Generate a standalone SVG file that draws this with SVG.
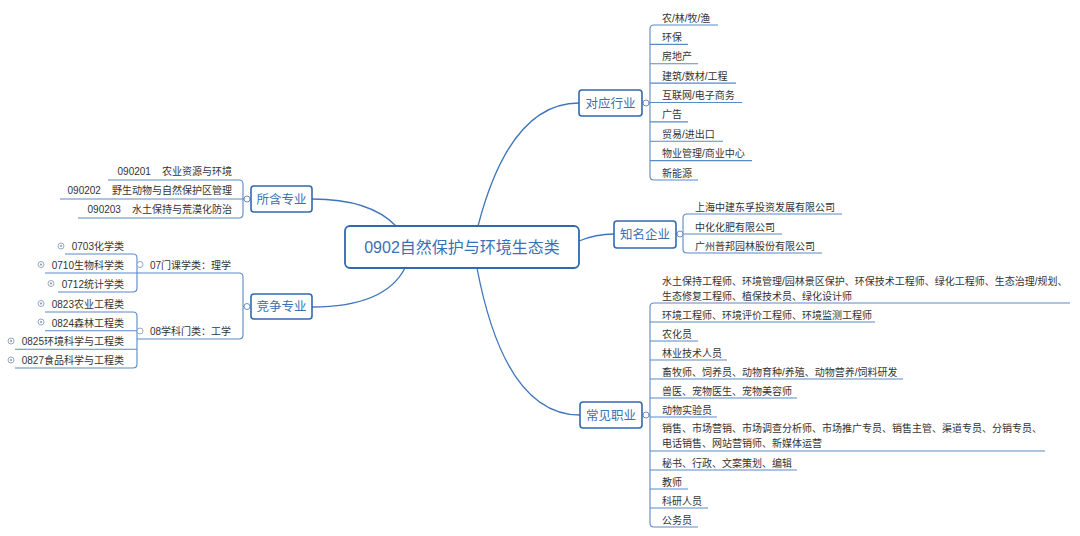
<svg xmlns="http://www.w3.org/2000/svg" width="1080" height="536" viewBox="0 0 1080 536">
<style>
text{font-family:"Liberation Sans","Noto Sans CJK SC",sans-serif;}
.node rect{fill:#fff;stroke:#3069b0;stroke-width:1.6;}
.node text{fill:#3a70b5;font-size:12.5px;text-anchor:middle;}
.center rect{stroke-width:1.8;}
.center text{font-size:16px;}
.leaf{fill:#333;font-size:10px;}
.end{text-anchor:end;}
.conn path,.conn line{fill:none;stroke:#3f76bb;stroke-width:1.3;}
.ul path,.ul line{fill:none;stroke:#5b89c6;stroke-width:1.1;}
.knob{fill:#fff;stroke:#6d8fbf;stroke-width:1;}
.mk{fill:#fff;stroke:#8a9dba;stroke-width:0.9;}
</style>

<g id="connectors" class="conn">
<path d="M478,226 Q510,103 579,103"/>
<path d="M579,241 Q596,234 614,234"/>
<path d="M477,268 Q505,415 580,415"/>
<path d="M396,226 Q370,199 312,199"/>
<path d="M405,268 Q385,307 312,307"/>
<line x1="642" y1="103" x2="650" y2="103"/>
<line x1="676" y1="234" x2="683" y2="234"/>
<line x1="642" y1="415" x2="650" y2="415"/>
<line x1="251" y1="199" x2="243" y2="199"/>
<line x1="251" y1="306.5" x2="243" y2="306.5"/>
</g>

<g id="underlines" class="ul">
<!-- 对应行业 -->
<path d="M718,25 H654 Q650,25 650,29 V176 Q650,180 654,180 H698"/>
<line x1="650" y1="44.4" x2="688" y2="44.4"/>
<line x1="650" y1="63.8" x2="698" y2="63.8"/>
<line x1="650" y1="83.1" x2="736" y2="83.1"/>
<line x1="650" y1="102.5" x2="742" y2="102.5"/>
<line x1="650" y1="121.9" x2="688" y2="121.9"/>
<line x1="650" y1="141.3" x2="723" y2="141.3"/>
<line x1="650" y1="160.6" x2="752" y2="160.6"/>
<!-- 知名企业 -->
<path d="M842,214 H687 Q683,214 683,218 V249 Q683,253 687,253 H822"/>
<line x1="683" y1="234" x2="782" y2="234"/>
<!-- 常见职业 -->
<path d="M1070,303 H654 Q650,303 650,307 V523 Q650,527 654,527 H698"/>
<line x1="650" y1="322" x2="875" y2="322"/>
<line x1="650" y1="341" x2="698" y2="341"/>
<line x1="650" y1="360" x2="727" y2="360"/>
<line x1="650" y1="379" x2="903" y2="379"/>
<line x1="650" y1="398" x2="797" y2="398"/>
<line x1="650" y1="417" x2="717" y2="417"/>
<line x1="650" y1="451" x2="1045" y2="451"/>
<line x1="650" y1="470" x2="797" y2="470"/>
<line x1="650" y1="489" x2="688" y2="489"/>
<line x1="650" y1="508" x2="708" y2="508"/>
<!-- 所含专业 -->
<path d="M108,180 H239 Q243,180 243,184 V214 Q243,218 239,218 H78"/>
<line x1="60" y1="199" x2="243" y2="199"/>
<!-- 竞争专业 -->
<path d="M137,273 H239 Q243,273 243,277 V335 Q243,339 239,339 H137"/>
<path d="M65,254 H133 Q137,254 137,258 V288 Q137,292 133,292 H58"/>
<line x1="45" y1="273" x2="137" y2="273"/>
<path d="M45,312 H133 Q137,312 137,316 V364 Q137,368 133,368 H15"/>
<line x1="45" y1="330.7" x2="137" y2="330.7"/>
<line x1="15" y1="349.3" x2="137" y2="349.3"/>
</g>

<g id="node-center" class="node center">
<rect x="345" y="226" width="234" height="42" rx="5"/>
<text x="462" y="253">0902自然保护与环境生态类</text>
</g>

<g id="node-duiying" class="node">
<rect x="579" y="90" width="63" height="26" rx="3"/>
<text x="610.5" y="107.5">对应行业</text>
<circle class="knob" cx="646" cy="103" r="3"/>
</g>
<g id="node-zhiming" class="node">
<rect x="614" y="221" width="62" height="27" rx="3"/>
<text x="645" y="239">知名企业</text>
<circle class="knob" cx="680" cy="234" r="3"/>
</g>
<g id="node-changjian" class="node">
<rect x="580" y="402" width="62" height="26" rx="3"/>
<text x="611" y="419.5">常见职业</text>
<circle class="knob" cx="646" cy="415" r="3"/>
</g>
<g id="node-suohan" class="node">
<rect x="251" y="186" width="61" height="26" rx="3"/>
<text x="281.5" y="203.5">所含专业</text>
<circle class="knob" cx="247" cy="199" r="3"/>
</g>
<g id="node-jingzheng" class="node">
<rect x="251" y="294" width="61" height="25" rx="3"/>
<text x="281.5" y="311">竞争专业</text>
<circle class="knob" cx="247" cy="306.5" r="3"/>
</g>

<g id="leaves-duiying">
<text class="leaf" x="662" y="21.5">农/林/牧/渔</text>
<text class="leaf" x="662" y="40.9">环保</text>
<text class="leaf" x="662" y="60.3">房地产</text>
<text class="leaf" x="662" y="79.6">建筑/数材/工程</text>
<text class="leaf" x="662" y="99">互联网/电子商务</text>
<text class="leaf" x="662" y="118.4">广告</text>
<text class="leaf" x="662" y="137.8">贸易/进出口</text>
<text class="leaf" x="662" y="157.1">物业管理/商业中心</text>
<text class="leaf" x="662" y="176.5">新能源</text>
</g>

<g id="leaves-zhiming">
<text class="leaf" x="695" y="210.5">上海中建东孚投资发展有限公司</text>
<text class="leaf" x="695" y="230.5">中化化肥有限公司</text>
<text class="leaf" x="695" y="249.5">广州普邦园林股份有限公司</text>
</g>

<g id="leaves-changjian">
<text class="leaf" x="662" y="285">水土保持工程师、环境管理/园林景区保护、环保技术工程师、绿化工程师、生态治理/规划、</text>
<text class="leaf" x="662" y="300">生态修复工程师、植保技术员、绿化设计师</text>
<text class="leaf" x="662" y="318.5">环境工程师、环境评价工程师、环境监测工程师</text>
<text class="leaf" x="662" y="337.5">农化员</text>
<text class="leaf" x="662" y="356.5">林业技术人员</text>
<text class="leaf" x="662" y="375.5">畜牧师、饲养员、动物育种/养殖、动物营养/饲料研发</text>
<text class="leaf" x="662" y="394.5">兽医、宠物医生、宠物美容师</text>
<text class="leaf" x="662" y="413.5">动物实验员</text>
<text class="leaf" x="662" y="432">销售、市场营销、市场调查分析师、市场推广专员、销售主管、渠道专员、分销专员、</text>
<text class="leaf" x="662" y="447">电话销售、网站营销师、新媒体运营</text>
<text class="leaf" x="662" y="466.5">秘书、行政、文案策划、编辑</text>
<text class="leaf" x="662" y="485.5">教师</text>
<text class="leaf" x="662" y="504.5">科研人员</text>
<text class="leaf" x="662" y="523.5">公务员</text>
</g>

<g id="leaves-suohan">
<text class="leaf end" x="232" y="175" xml:space="preserve">090201    农业资源与环境</text>
<text class="leaf end" x="232" y="194" xml:space="preserve">090202    野生动物与自然保护区管理</text>
<text class="leaf end" x="232" y="213" xml:space="preserve">090203    水土保持与荒漠化防治</text>
</g>

<g id="leaves-jingzheng">
<text class="leaf" x="150" y="268.5">07门课学类：理学</text>
<circle class="mk" cx="140" cy="264.5" r="3"/>
<text class="leaf" x="150" y="335">08学科门类：工学</text>
<circle class="mk" cx="140" cy="331" r="3"/>

<text class="leaf end" x="124" y="250">0703化学类</text>
<text class="leaf end" x="124" y="269">0710生物科学类</text>
<text class="leaf end" x="124" y="288">0712统计学类</text>
<text class="leaf end" x="124" y="308">0823农业工程类</text>
<text class="leaf end" x="124" y="326.5">0824森林工程类</text>
<text class="leaf end" x="124" y="345">0825环境科学与工程类</text>
<text class="leaf end" x="124" y="364">0827食品科学与工程类</text>
<g class="mk">
<circle cx="61" cy="246" r="3"/>
<circle cx="41" cy="264.5" r="3"/>
<circle cx="51" cy="283.5" r="3"/>
<circle cx="41" cy="303.5" r="3"/>
<circle cx="41" cy="322" r="3"/>
<circle cx="11" cy="341" r="3"/>
<circle cx="11" cy="360" r="3"/>
</g>
<g fill="#8a9dba">
<circle cx="61" cy="246" r="1.1"/>
<circle cx="41" cy="264.5" r="1.1"/>
<circle cx="51" cy="283.5" r="1.1"/>
<circle cx="41" cy="303.5" r="1.1"/>
<circle cx="41" cy="322" r="1.1"/>
<circle cx="11" cy="341" r="1.1"/>
<circle cx="11" cy="360" r="1.1"/>
</g>
</g>
</svg>
